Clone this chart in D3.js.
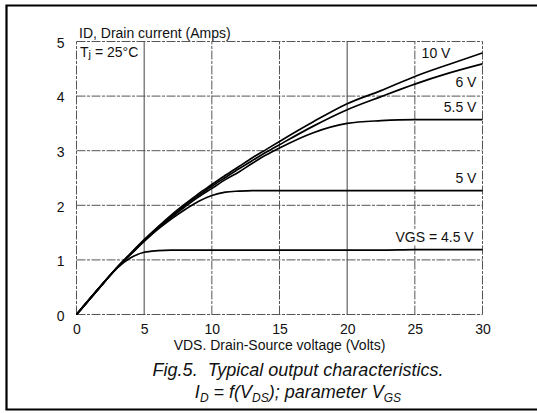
<!DOCTYPE html>
<html>
<head>
<meta charset="utf-8">
<script src="https://cdn.jsdelivr.net/npm/d3@7"></script>
<style>
  html, body { margin: 0; padding: 0; background: #fff; }
  svg { display: block; }
  text { font-family: "Liberation Sans", Arial, Helvetica, sans-serif; fill: #111; }
  .pre { white-space: pre; }
</style>
</head>
<body>
<svg id="chart" width="537" height="413"></svg>
<script>
// ---- data ----
const vds   = [0, 1, 2, 3, 4, 5, 6, 7, 8, 9, 10, 11, 12, 13, 14, 15, 17.5, 20, 22.5, 25, 27.5, 30];
const id10  = [0, 0.29, 0.58, 0.86, 1.12, 1.37, 1.60, 1.82, 2.02, 2.21, 2.38, 2.55, 2.71, 2.87, 3.02, 3.17, 3.53, 3.86, 4.10, 4.36, 4.58, 4.79];
const id6   = [0, 0.29, 0.58, 0.86, 1.11, 1.36, 1.59, 1.80, 2.00, 2.18, 2.35, 2.51, 2.67, 2.82, 2.97, 3.11, 3.45, 3.75, 3.99, 4.22, 4.42, 4.59];
const id55  = [0, 0.29, 0.58, 0.86, 1.11, 1.35, 1.57, 1.78, 1.97, 2.15, 2.31, 2.47, 2.61, 2.77, 2.92, 3.05, 3.33, 3.50, 3.55, 3.57, 3.57, 3.57];
const id5   = [0, 0.29, 0.58, 0.86, 1.10, 1.34, 1.56, 1.75, 1.92, 2.07, 2.18, 2.24, 2.26, 2.27, 2.27, 2.27, 2.27, 2.27, 2.27, 2.27, 2.27, 2.27];
const id45  = [0, 0.29, 0.58, 0.85, 1.04, 1.14, 1.17, 1.18, 1.18, 1.18, 1.18, 1.18, 1.18, 1.18, 1.18, 1.18, 1.18, 1.18, 1.18, 1.19, 1.19, 1.19];
const seriesNames = ["10 V", "6 V", "5.5 V", "5 V", "VGS = 4.5 V"];
const xTicks = [0, 5, 10, 15, 20, 25, 30];
const yTicks = [0, 1, 2, 3, 4, 5];
const yTitle = "ID, Drain current (Amps)";
const xTitle = "VDS. Drain-Source voltage (Volts)";
const captionLine1 = "Fig.5.  Typical output characteristics.";

// ---- layout ----
const svg = d3.select("#chart");
const x = d3.scaleLinear().domain([0, 30]).range([76.5, 482.5]);
const y = d3.scaleLinear().domain([0, 5]).range([314.5, 41.5]);

// outer frame (right side runs off the picture)
svg.append("path")
  .attr("d", "M 545 5.5 L 6.5 5.5 L 6.5 409.5 L 545 409.5")
  .attr("fill", "none").attr("stroke", "#000").attr("stroke-width", 2.2);

// grid
const grid = svg.append("g");
grid.selectAll("line.h").data(yTicks).join("line")
  .attr("x1", x(0)).attr("x2", x(30))
  .attr("y1", d => y(d)).attr("y2", d => y(d))
  .attr("stroke", "#555").attr("stroke-width", 1)
  .attr("stroke-dasharray", "9,1.5,3,1.5");
grid.selectAll("line.v").data(xTicks).join("line")
  .attr("y1", y(0)).attr("y2", y(5))
  .attr("x1", d => x(d)).attr("x2", d => x(d))
  .attr("stroke", d => (d === 5 || d === 20) ? "#444" : "#555")
  .attr("stroke-width", 1)
  .attr("stroke-dasharray", d => (d === 5 || d === 20) ? null : "9,1.5,3,1.5");

// axes tick labels via d3 axes (domain and tick lines hidden)
const xAxis = svg.append("g").attr("transform", `translate(0,${y(0)})`)
  .call(d3.axisBottom(x).tickValues(xTicks).tickSize(0).tickPadding(10).tickFormat(d3.format("d")));
xAxis.select(".domain").remove();
xAxis.selectAll("text").attr("font-size", 14).attr("font-family", "Liberation Sans, Arial, sans-serif").attr("fill", "#111");

const yAxis = svg.append("g").attr("transform", `translate(${x(0)},0)`)
  .call(d3.axisLeft(y).tickValues(yTicks).tickSize(0).tickPadding(12).tickFormat(d3.format("d")));
yAxis.select(".domain").remove();
yAxis.selectAll("text").attr("font-size", 14).attr("font-family", "Liberation Sans, Arial, sans-serif").attr("fill", "#111").attr("dy", "0.42em");

// curves
const allSeries = [id10, id6, id55, id5, id45];
const line = d3.line().x(d => x(d[0])).y(d => y(d[1])).curve(d3.curveMonotoneX);
svg.append("g").selectAll("path").data(allSeries).join("path")
  .attr("d", s => line(vds.map((v, i) => [v, s[i]])))
  .attr("fill", "none").attr("stroke", "#000").attr("stroke-width", 1.7);

// curve labels (white backing)
const labelPos = [
  { v: 25.5, i: 4.70, anchor: "start" },
  { v: 29.55, i: 4.17, anchor: "end" },
  { v: 29.55, i: 3.71, anchor: "end" },
  { v: 29.55, i: 2.41, anchor: "end" },
  { v: 29.35, i: 1.33, anchor: "end" }
];
const lg = svg.append("g");
seriesNames.forEach((name, k) => {
  const p = labelPos[k];
  const t = lg.append("text").attr("x", x(p.v)).attr("y", y(p.i))
    .attr("text-anchor", p.anchor).attr("font-size", 14).text(name);
  const bb = t.node().getBBox();
  lg.insert("rect", () => t.node())
    .attr("x", bb.x - 2).attr("y", bb.y).attr("width", bb.width + 4).attr("height", bb.height - 1)
    .attr("fill", "#fff");
});

// y title and Tj note
svg.append("rect").attr("x", 78).attr("y", 26).attr("width", 158).attr("height", 14).attr("fill", "#fff");
svg.append("text").attr("x", 79).attr("y", 37.5).attr("font-size", 14).text(yTitle);
const tj = svg.append("text").attr("x", 80).attr("y", 57).attr("font-size", 14);
tj.append("tspan").text("T");
tj.append("tspan").attr("font-size", 11).attr("dy", 1).text("j");
tj.append("tspan").attr("dy", -1).text(" = 25\u00B0C");

// x title
svg.append("text").attr("x", (x(0) + x(30)) / 2).attr("y", 350).attr("text-anchor", "middle")
  .attr("font-size", 14).text(xTitle);

// caption
svg.append("text").attr("class", "pre").attr("x", 298).attr("y", 376).attr("text-anchor", "middle")
  .attr("font-size", 18).attr("font-style", "italic").text(captionLine1);
const c2 = svg.append("text").attr("x", 298).attr("y", 398).attr("text-anchor", "middle")
  .attr("font-size", 18).attr("font-style", "italic");
const parts = [
  ["I", false], ["D", true], [" = f(V", false], ["DS", true], ["); parameter V", false], ["GS", true]
];
let sub = false;
parts.forEach(([txt, isSub]) => {
  const ts = c2.append("tspan").text(txt);
  if (isSub && !sub) { ts.attr("dy", 4).attr("font-size", 12); sub = true; }
  else if (isSub) { ts.attr("font-size", 12); }
  else if (!isSub && sub) { ts.attr("dy", -4); sub = false; }
});
</script>
</body>
</html>
